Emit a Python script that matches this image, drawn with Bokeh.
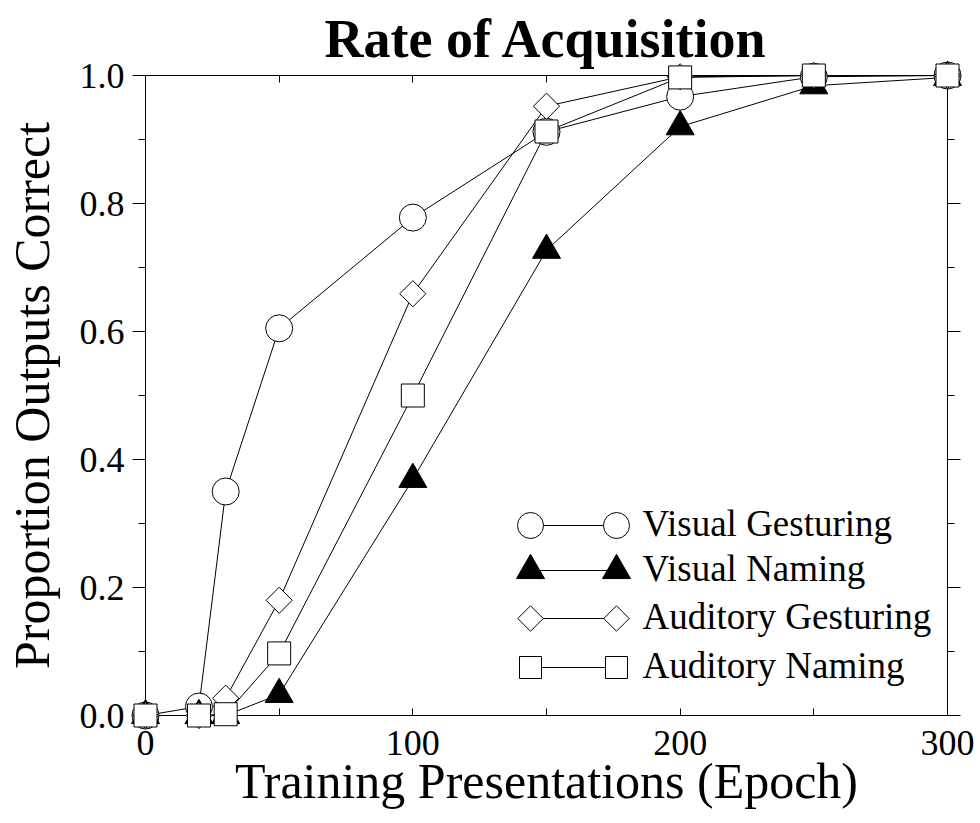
from bokeh.plotting import figure
from bokeh.models import LinearAxis, Range1d, FixedTicker, CustomLabelingPolicy
from bokeh.embed import file_html
from bokeh.resources import INLINE
from bokeh.core.properties import value
import math

# ---- data ----
epochs = [0, 20, 30, 50, 100, 150, 200, 250, 300]
visual_gesturing = [0.0, 0.014, 0.35, 0.605, 0.778, 0.912, 0.967, 0.998, 1.0]
visual_naming = [0.0, 0.0, 0.0, 0.033, 0.369, 0.727, 0.92, 0.984, 0.997]
auditory_gesturing = [0.0, 0.0, 0.027, 0.18, 0.659, 0.952, 0.998, 1.0, 1.0]
auditory_naming = [0.0, 0.0, 0.002, 0.097, 0.5, 0.9125, 0.997, 1.0, 1.0]
series_names = ["Visual Gesturing", "Visual Naming", "Auditory Gesturing", "Auditory Naming"]

x_major_ticks = [0, 100, 200, 300]
x_minor_ticks = [50, 150, 250]
x_all_ticks = [0, 50, 100, 150, 200, 250, 300]
y_ticks = [0.0, 0.2, 0.4, 0.6, 0.8, 1.0]
y_minor_ticks = [0.1, 0.3, 0.5, 0.7, 0.9]
y_tick_labels = {0.0: "0.0", 0.2: "0.2", 0.4: "0.4", 0.6: "0.6", 0.8: "0.8", 1.0: "1.0"}

FONT = "Liberation Serif"

# ---- layout ----
FW, FH = 802, 640
p = figure(frame_width=FW, frame_height=FH,
           x_range=Range1d(0, 300), y_range=Range1d(0, 1),
           output_backend="svg", toolbar_location=None,
           min_border_left=145, min_border_right=30,
           min_border_top=75, min_border_bottom=100)
p.xgrid.visible = False
p.ygrid.visible = False
p.outline_line_color = None
p.background_fill_color = "white"
p.border_fill_color = "white"

p.title.text = "Rate of Acquisition"
p.title.align = "center"
p.title.text_font = FONT
p.title.text_font_size = "54px"
p.title.text_font_style = "bold"
p.title.text_color = "black"
p.title.standoff = 13


def base_axis(ax):
    ax.axis_line_color = "black"
    ax.axis_line_width = 1
    ax.major_tick_line_color = "black"
    ax.minor_tick_line_color = "black"
    ax.major_label_text_font = FONT
    ax.major_label_text_font_size = "36px"
    ax.major_label_text_color = "black"


# bottom axis
xb = p.xaxis[0]
base_axis(xb)
xb.ticker = FixedTicker(ticks=x_major_ticks, minor_ticks=x_minor_ticks)
xb.major_tick_in = 7
xb.major_tick_out = 0
xb.minor_tick_in = 7
xb.minor_tick_out = 0
xb.major_label_standoff = 15
xb.axis_label = "Training Presentations (Epoch)"
xb.axis_label_text_font = FONT
xb.axis_label_text_font_size = "50px"
xb.axis_label_text_font_style = "normal"
xb.axis_label_text_color = "black"
xb.axis_label_standoff = -5

# left axis
yl = p.yaxis[0]
base_axis(yl)
yl.ticker = FixedTicker(ticks=y_ticks, minor_ticks=y_minor_ticks)
yl.major_label_overrides = y_tick_labels
yl.major_tick_in = 0
yl.major_tick_out = 13
yl.minor_tick_in = 0
yl.minor_tick_out = 7
yl.major_label_standoff = 8
yl.axis_label = "Proportion Outputs Correct"
yl.axis_label_text_font = FONT
yl.axis_label_text_font_size = "50px"
yl.axis_label_text_font_style = "normal"
yl.axis_label_text_color = "black"
yl.axis_label_standoff = 17

# top axis: ticks only (all as minor ticks, so no labels)
xt = LinearAxis()
base_axis(xt)
xt.ticker = FixedTicker(ticks=[], minor_ticks=x_all_ticks)
xt.major_tick_in = 0
xt.major_tick_out = 0
xt.minor_tick_in = 7
xt.minor_tick_out = 0
xt.major_label_standoff = 0
p.add_layout(xt, "above")

# right axis: ticks only, labels hidden by policy
yr = LinearAxis()
base_axis(yr)
yr.ticker = FixedTicker(ticks=y_ticks, minor_ticks=y_minor_ticks)
yr.major_tick_in = 0
yr.major_tick_out = 13
yr.minor_tick_in = 0
yr.minor_tick_out = 7
yr.major_label_standoff = 0
yr.major_label_text_font_size = "1px"
yr.major_label_policy = CustomLabelingPolicy(code="""
for (const i of indices) { indices.unset(i) }
return indices
""")
p.add_layout(yr, "right")

# ---- series ----
series = [visual_gesturing, visual_naming, auditory_gesturing, auditory_naming]
styles = [
    dict(marker="circle", size=27, fill_color="white", angle=0.0),
    dict(marker="triangle", size=28, fill_color="black", angle=0.0),
    dict(marker="square", size=18.5, fill_color="white", angle=math.pi / 4),
    dict(marker="square", size=23, fill_color="white", angle=0.0),
]
for ys in series:
    p.line(epochs, ys, line_color="black", line_width=1, level="overlay")
for ys, st in zip(series, styles):
    p.scatter(epochs, ys, marker=st["marker"], size=st["size"], angle=st["angle"],
              fill_color=st["fill_color"], line_color="black", line_width=1,
              level="overlay")

# ---- legend (drawn by hand, positions in pixels of the frame) ----
def px_to_x(px):
    return px * 300.0 / FW


def py_to_y(py):
    return 1.0 - py / FH

leg_left_px, leg_right_px, leg_text_px = 385, 471, 497
leg_rows_px = [450, 495, 543, 592]
leg_styles = [
    dict(marker="circle", size=26, fill_color="white", angle=0.0),
    dict(marker="triangle", size=28, fill_color="black", angle=0.0),
    dict(marker="square", size=18, fill_color="white", angle=math.pi / 4),
    dict(marker="square", size=22, fill_color="white", angle=0.0),
]
for name, row, st in zip(series_names, leg_rows_px, leg_styles):
    yv = py_to_y(row)
    p.line([px_to_x(leg_left_px), px_to_x(leg_right_px)], [yv, yv],
           line_color="black", line_width=1, level="overlay")
    p.scatter([px_to_x(leg_left_px), px_to_x(leg_right_px)], [yv, yv], marker=st["marker"],
              size=st["size"], angle=st["angle"], fill_color=st["fill_color"],
              line_color="black", line_width=1, level="overlay")
    p.text([px_to_x(leg_text_px)], [py_to_y(row - 2)], text=[name],
           text_font=value(FONT), text_font_size="37px", text_color="black",
           text_baseline="middle", text_align="left", level="overlay")

open("out.html", "w").write(file_html(p, INLINE))
